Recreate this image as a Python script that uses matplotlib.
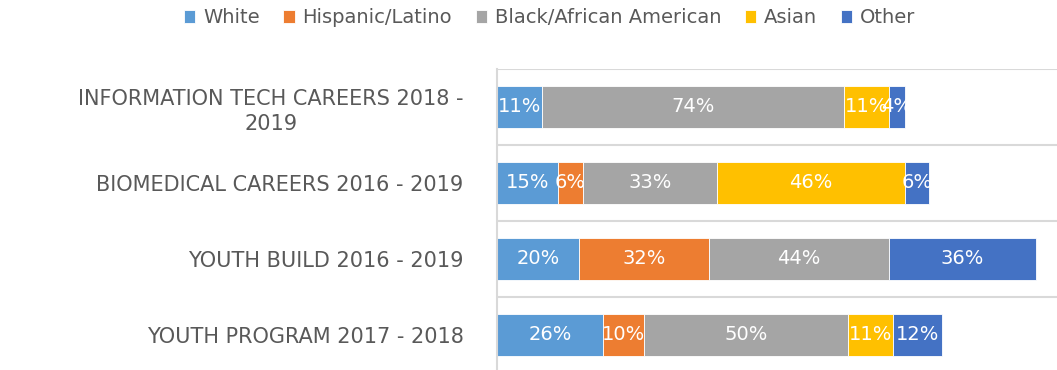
import matplotlib.pyplot as plt
import numpy as np

# programmes, listed bottom to top as they appear on the chart
programs = ["YOUTH PROGRAM 2017 - 2018",
            "YOUTH BUILD 2016 - 2019",
            "BIOMEDICAL CAREERS 2016 - 2019",
            "INFORMATION TECH CAREERS 2018 -\n2019"]

groups = ["White", "Hispanic/Latino", "Black/African American", "Asian", "Other"]

# percentage of participants per group, same order as programs
white = [26, 20, 15, 11]
hispanic = [10, 32, 6, 0]
black = [50, 44, 33, 74]
asian = [11, 0, 46, 11]
other = [12, 36, 6, 4]

colors = ["#5B9BD5", "#ED7D31", "#A5A5A5", "#FFC000", "#4472C4"]
textColor = "#595959"
gridColor = "#D9D9D9"

plt.rcParams['font.family'] = ['DejaVu Sans']

fig = plt.figure(figsize=(10.57, 3.70), dpi=100)
ax = fig.add_axes([497 / 1057, -3 / 370, 560 / 1057, 304 / 370])

y = np.arange(len(programs))
left = np.zeros(len(programs))
for name, vals, col in zip(groups, [white, hispanic, black, asian, other], colors):
    vals = np.array(vals, dtype=float)
    bars = ax.barh(y, vals, left=left, height=0.55, color=col,
                   edgecolor="white", linewidth=0.6, label=name)
    for b, v in zip(bars, vals):
        if v > 0:
            ax.text(b.get_x() + b.get_width() / 2, b.get_y() + b.get_height() / 2,
                    f"{v:.0f}%", ha="center", va="center", color="white",
                    fontsize=14)
    left += vals

ax.set_xlim(0, 560 / 4.08)
ax.set_ylim(-0.5, len(programs) - 0.5)

# horizontal separators between programmes
ax.set_yticks(y)
ax.set_yticks(np.arange(-0.5, len(programs)), minor=True)
ax.yaxis.grid(True, which="minor", color=gridColor, linewidth=1.5)
ax.tick_params(axis="y", which="both", length=0, pad=24)
ax.set_yticklabels(programs, fontsize=15, color=textColor)
for lbl in ax.get_yticklabels():
    lbl.set_multialignment("center")
    lbl.set_linespacing(1.3)
ax.set_xticks([])

for side in ["top", "right", "bottom"]:
    ax.spines[side].set_visible(False)
ax.spines["left"].set_color(gridColor)
ax.spines["left"].set_linewidth(1.5)

fig.legend(loc="upper center", bbox_to_anchor=(0.52, 1.025), ncol=5,
           frameon=False, fontsize=14, labelcolor=textColor,
           handlelength=0.6, handleheight=0.6, handletextpad=0.4,
           columnspacing=1.2)

fig.savefig("out.png", dpi=100)
